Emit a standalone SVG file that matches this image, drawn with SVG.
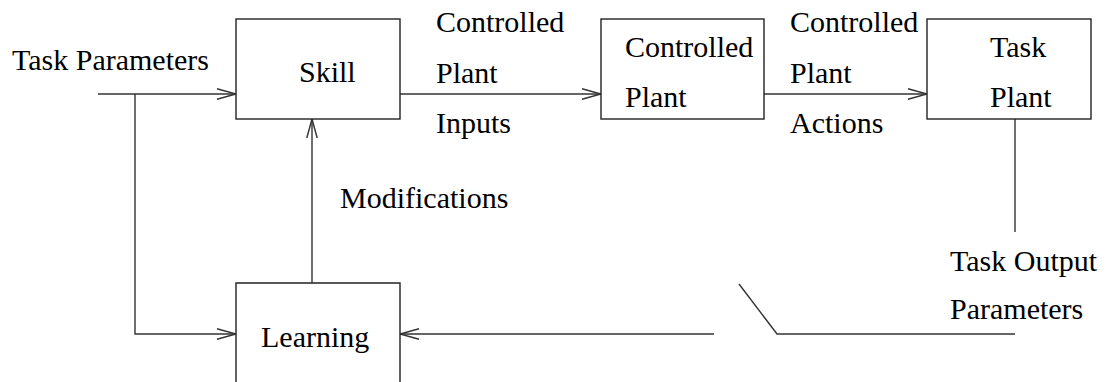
<svg xmlns="http://www.w3.org/2000/svg" width="1109" height="382" viewBox="0 0 1109 382">
<style>
.box{fill:#fff;stroke:#222;stroke-width:1.4}
.ln{fill:none;stroke:#333;stroke-width:1.4}
.t{font-family:'Liberation Serif','Times New Roman',serif;font-size:30px;fill:#000}
</style>
<defs>
<marker id="arr" markerUnits="userSpaceOnUse" markerWidth="22" markerHeight="14" refX="19" refY="6" orient="auto" overflow="visible">
<path d="M0,0.8 L19,6 L0,11.2" fill="none" stroke="#333" stroke-width="1.4"/>
</marker>
</defs>
<rect width="1109" height="382" fill="#fff"/>
<g id="connectors">
<path class="ln" d="M98,94 H236" marker-end="url(#arr)"/>
<path class="ln" d="M135,94 V334 H236" marker-end="url(#arr)"/>
<path class="ln" d="M400,94 H601" marker-end="url(#arr)"/>
<path class="ln" d="M764,94 H927" marker-end="url(#arr)"/>
<path class="ln" d="M1015,119 V232"/>
<path class="ln" d="M1015,334 H777 L739,284"/>
<path class="ln" d="M714,334 H400" marker-end="url(#arr)"/>
<path class="ln" d="M312,283 V119" marker-end="url(#arr)"/>
</g>
<g id="labels" class="t">
<text x="12" y="70">Task Parameters</text>
<text x="436" y="32">Controlled</text>
<text x="436" y="83">Plant</text>
<text x="436" y="133">Inputs</text>
<text x="790" y="32">Controlled</text>
<text x="790" y="83">Plant</text>
<text x="790" y="133">Actions</text>
<text x="340" y="208">Modifications</text>
<text x="950" y="271">Task Output</text>
<text x="950" y="319">Parameters</text>
</g>
<g id="skill" class="t">
<rect class="box" x="236" y="19" width="164" height="100"/>
<text x="299" y="82">Skill</text>
</g>
<g id="controlled-plant" class="t">
<rect class="box" x="601" y="19" width="163" height="100"/>
<text x="625" y="57">Controlled</text>
<text x="625" y="107">Plant</text>
</g>
<g id="task-plant" class="t">
<rect class="box" x="927" y="19" width="164" height="100"/>
<text x="990" y="57">Task</text>
<text x="990" y="107">Plant</text>
</g>
<g id="learning" class="t">
<path class="box" d="M236,390 V283 H400 V390"/>
<text x="261" y="347">Learning</text>
</g>
</svg>
